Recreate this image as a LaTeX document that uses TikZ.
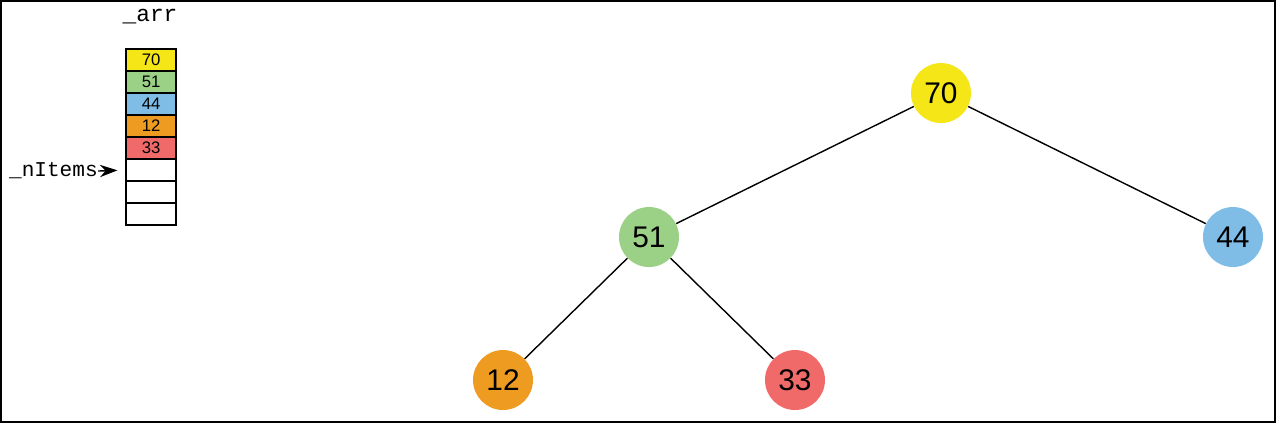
\documentclass[tikz,border=0pt]{standalone}
\usepackage{fontspec}
\setmainfont{Liberation Sans}
\setmonofont{Liberation Mono}
\usetikzlibrary{arrows.meta}

\definecolor{hpyellow}{HTML}{F5E617}
\definecolor{hpgreen}{HTML}{9BD087}
\definecolor{hpblue}{HTML}{7FBDE6}
\definecolor{hporange}{HTML}{EE9B22}
\definecolor{hpred}{HTML}{F06A6A}

\tikzset{
  cell/.style={draw, line width=0.75pt, minimum width=1cm, minimum height=0.44cm,
    inner sep=0pt, font=\fontsize{9.5}{10}\selectfont},
  heapnode/.style={circle, minimum size=1.2cm, inner sep=0pt,
    font=\fontsize{17}{18}\selectfont},
  edge/.style={line width=0.8pt},
}

\begin{document}
\begin{tikzpicture}[x=0.02cm, y=-0.02cm]
			% Frame
			\draw[line width=1.2pt] (1,1) rectangle (1275,422);
			
			% Array cells
			\node at (150,17) {\ttfamily\fontsize{13}{13}\selectfont \_arr};
			\foreach \i/\val/\col in {1/70/hpyellow, 2/51/hpgreen, 3/44/hpblue,
			    4/12/hporange, 5/33/hpred, 6//white, 7//white, 8//white}
			  \node[cell, fill=\col] (cell\i) at (151, 38+22*\i) {\val};
			
			% Item counter
			\node[anchor=east, inner sep=0pt] (count) at (98,171) {\ttfamily\fontsize{12}{12}\selectfont \_nItems};
			\draw[line width=0.8pt, -{Stealth[length=10pt, width=7pt]}, shorten >=4.5pt] (count.east) -- (cell6.west);
			
			% Heap as a tree
			\node[heapnode, fill=hpyellow] (n70) at (941,93) {70};
			\node[heapnode, fill=hpgreen] (n51) at (649,237) {51};
			\node[heapnode, fill=hpblue] (n44) at (1233,237) {44};
			\node[heapnode, fill=hporange] (n12) at (503,380) {12};
			\node[heapnode, fill=hpred] (n33) at (795,380) {33};
			
			\draw[edge] (n70) -- (n51);
			\draw[edge] (n70) -- (n44);
			\draw[edge] (n51) -- (n12);
			\draw[edge] (n51) -- (n33);
		\end{tikzpicture}
\end{document}
